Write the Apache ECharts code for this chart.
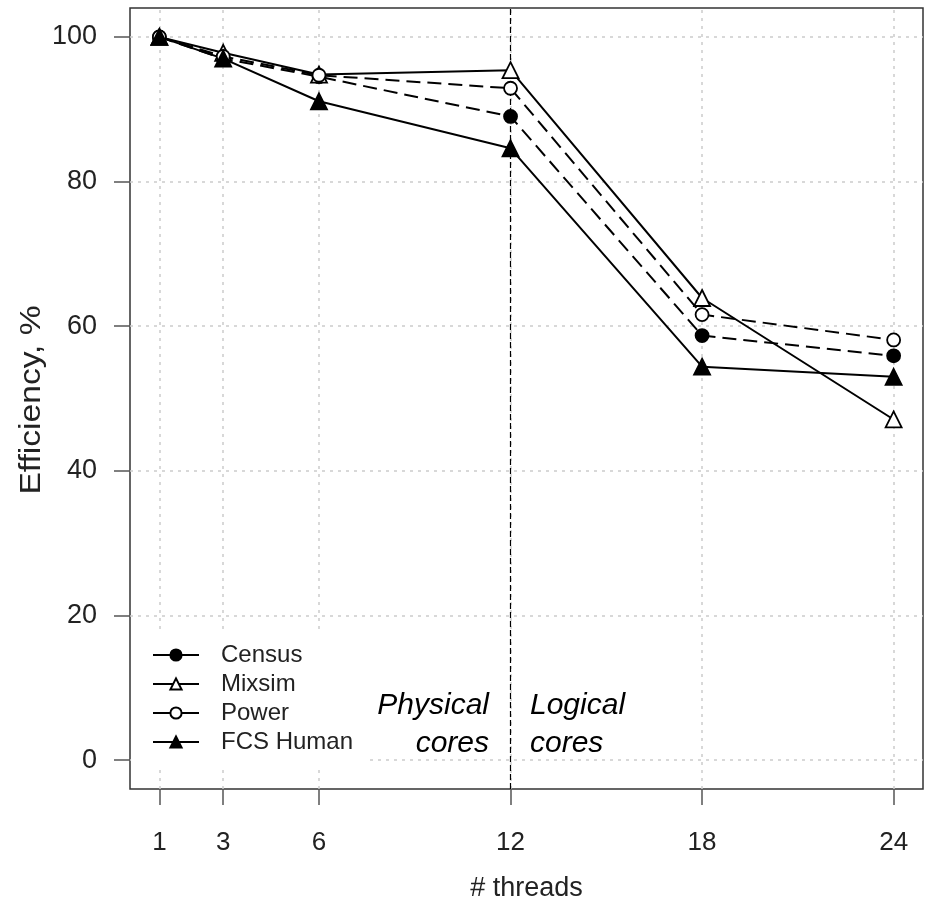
<!DOCTYPE html>
<html>
<head>
<meta charset="utf-8">
<script src="https://cdn.jsdelivr.net/npm/echarts@6/dist/echarts.min.js"></script>
<style>
html,body{margin:0;padding:0;background:#fff;}
#chart{width:926px;height:901px;}
</style>
</head>
<body>
<div id="chart"></div>
<script>
// ---- data ----
const threads = [1, 3, 6, 12, 18, 24];
const census  = [100, 97.0, 94.5, 89.0, 58.7, 55.9];
const mixsim  = [100, 97.8, 94.8, 95.4, 63.9, 47.1];
const power   = [100, 97.3, 94.7, 92.9, 61.6, 58.1];
const fcs     = [100, 97.0, 91.1, 84.6, 54.4, 53.0];
const xTicks = [1, 3, 6, 12, 18, 24];
const yTicks = [0, 20, 40, 60, 80, 100];
const seriesNames = ['Census', 'Mixsim', 'Power', 'FCS Human'];
const yTitle = 'Efficiency, %';
const xTitle = '# threads';
const splitAt = 12;

const X_MIN = 0.08, X_MAX = 24.92, Y_MIN = -4, Y_MAX = 104;

function pairs(vals) { return threads.map((t, i) => [t, vals[i]]); }

const chart = echarts.init(document.getElementById('chart'), null, {renderer: 'canvas'});

const gridLineStyle = {color: '#cccccc', type: [3, 5], width: 1.5};
const gridLines = [];
yTicks.forEach(v => gridLines.push([{coord: [X_MIN, v], lineStyle: gridLineStyle}, {coord: [X_MAX, v]}]));
xTicks.forEach(v => gridLines.push([{coord: [v, Y_MIN], lineStyle: gridLineStyle}, {coord: [v, Y_MAX]}]));

const dash = [14, 7];
const mk = (name, vals, symbol, filled, lineType, size) => ({
  name, type: 'line', data: pairs(vals), symbol, symbolSize: size, showAllSymbol: true,
  lineStyle: {color: '#000', width: 2, type: lineType},
  itemStyle: {color: filled ? '#000' : '#fff', borderColor: '#000', borderWidth: 1.8},
  z: 3, animation: false
});

const italic = 'italic 30px "Liberation Sans"';

const option = {
  animation: false,
  backgroundColor: '#fff',
  grid: {left: 130, right: 3, top: 8, bottom: 112, show: true, borderColor: '#333', borderWidth: 1.5,
         backgroundColor: 'transparent', containLabel: false, outerBoundsMode: 'none'},
  xAxis: {
    type: 'value', min: X_MIN, max: X_MAX,
    name: xTitle, nameLocation: 'middle', nameGap: 86,
    nameTextStyle: {fontFamily: 'Liberation Sans', fontSize: 27, color: '#222'},
    axisLine: {show: false, onZero: false},
    axisTick: {show: true, length: 16, customValues: xTicks, lineStyle: {color: '#555', width: 1.5}},
    axisLabel: {customValues: xTicks, margin: 41, fontFamily: 'Liberation Sans', fontSize: 26, color: '#222'},
    splitLine: {show: false}
  },
  yAxis: {
    type: 'value', min: Y_MIN, max: Y_MAX,
    axisLine: {show: false, onZero: false},
    axisTick: {show: true, length: 16, customValues: yTicks, lineStyle: {color: '#555', width: 1.5}},
    axisLabel: {customValues: yTicks, margin: 33, fontFamily: 'Liberation Sans', fontSize: 27, color: '#222'},
    splitLine: {show: false}
  },
  legend: {
    data: seriesNames.map(n => ({name: n, lineStyle: {type: 'solid', width: 2, color: '#000'}})),
    orient: 'vertical', left: 131, top: 632, padding: [11, 17, 16, 21],
    backgroundColor: '#fff', z: 6,
    itemWidth: 46, itemHeight: 14, itemGap: 5,
    textStyle: {fontFamily: 'Liberation Sans', fontSize: 24, color: '#222', padding: [0, 0, 0, 17]},
    selectedMode: false
  },
  graphic: [
    {type: 'text', x: 32, y: 400, rotation: Math.PI / 2, scaleX: 1.12,
     style: {text: yTitle, font: '30px "Liberation Sans"', fill: '#222', align: 'center', verticalAlign: 'middle'}},
    {type: 'text', right: 926 - 489, top: 691, z: 7, style: {text: 'Physical', font: italic, fill: '#000'}},
    {type: 'text', right: 926 - 489, top: 729, z: 7, style: {text: 'cores', font: italic, fill: '#000'}},
    {type: 'text', left: 530, top: 691, z: 7, style: {text: 'Logical', font: italic, fill: '#000'}},
    {type: 'text', left: 530, top: 729, z: 7, style: {text: 'cores', font: italic, fill: '#000'}}
  ],
  series: [
    {
      name: '_grid', type: 'line', data: [], z: 1, silent: true,
      markLine: {z: 1, silent: true, symbol: 'none', label: {show: false}, animation: false, data: gridLines}
    },
    {
      name: '_split', type: 'line', data: [], z: 2, silent: true,
      markLine: {z: 2, silent: true, symbol: 'none', label: {show: false}, animation: false,
        lineStyle: {color: '#000', type: [6, 3], width: 1.2},
        data: [[{coord: [splitAt, Y_MIN]}, {coord: [splitAt, Y_MAX]}]]}
    },
    mk('Census', census, 'circle', true, dash, 13),
    mk('Mixsim', mixsim, 'triangle', false, 'solid', 16),
    mk('Power', power, 'circle', false, dash, 13),
    mk('FCS Human', fcs, 'triangle', true, 'solid', 16)
  ]
};
chart.setOption(option);
</script>
</body>
</html>
